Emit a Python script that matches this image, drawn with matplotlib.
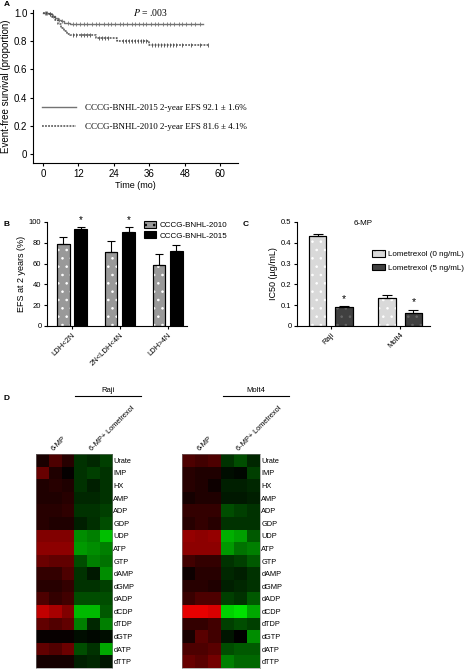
import numpy as np
import matplotlib
matplotlib.use('Agg')
from matplotlib import pyplot as plt
from matplotlib.colors import LinearSegmentedColormap
from matplotlib.lines import Line2D
from matplotlib.patches import Patch

plt.rcParams['font.family'] = ['Liberation Sans', 'DejaVu Sans']
plt.rcParams['mathtext.fontset'] = 'stix'
plt.rcParams['hatch.linewidth'] = 0.6

# ---- panel A: Kaplan-Meier curves
t_2015 = [0, 1, 2, 3, 4, 5, 6, 7, 8, 9, 54]
s_2015 = [1.0, 1.0, 0.99, 0.98, 0.965, 0.95, 0.94, 0.93, 0.925, 0.921, 0.921]
cens_2015 = [0.5, 1.5, 2.5, 3.5, 5.5, 6.5, 8.5, 10, 11, 12.5, 14, 15, 16.5, 18, 19, 20.5, 22, 23, 24.5,
             26, 27, 28.5, 30, 31, 32.5, 34, 35, 36.5, 38, 39, 40.5, 42, 43, 44.5, 46, 47, 48.5, 50, 51.5, 53]
t_2010 = [0, 2, 3, 4, 5, 6, 7, 8, 9, 18, 25, 36, 56]
s_2010 = [1.0, 0.99, 0.97, 0.95, 0.92, 0.89, 0.87, 0.85, 0.84, 0.82, 0.80, 0.77, 0.77]
cens_2010 = [1, 2.5, 10, 11, 13, 14, 15, 16, 19, 20, 21, 22, 27, 28, 29, 30, 31, 32, 33, 34, 35,
             37, 38, 39, 40, 41, 42, 43, 44, 45, 47, 50, 53, 56]
label_2015 = 'CCCG-BNHL-2015 2-year EFS 92.1 \u00b1 1.6%'
label_2010 = 'CCCG-BNHL-2010 2-year EFS 81.6 \u00b1 4.1%'
p_value = '.003'

# ---- panel B: EFS by LDH
ldh_groups = ['LDH<2N', '2N<LDH<4N', 'LDH>4N']
efs_2010 = [79, 71, 59]
efs_2010_err = [7, 11, 10]
efs_2015 = [93, 90, 72.5]
efs_2015_err = [2.5, 5, 5.5]
efs_sig = [True, True, False]

# ---- panel C: IC50
cell_lines = ['Raji', 'Molt4']
ic50_0 = [0.433, 0.137]
ic50_0_err = [0.008, 0.011]
ic50_5 = [0.089, 0.064]
ic50_5_err = [0.006, 0.015]

# ---- panel D: heatmaps
metabolites = ['Urate', 'IMP', 'HX', 'AMP', 'ADP', 'GDP', 'UDP', 'ATP', 'GTP', 'dAMP', 'dGMP',
               'dADP', 'dCDP', 'dTDP', 'dGTP', 'dATP', 'dTTP']
raji = [
    [0.10, 0.30, 0.15, -0.20, -0.15, -0.25],
    [0.40, 0.12, 0.02, -0.20, -0.25, -0.20],
    [0.12, 0.15, 0.12, -0.20, -0.12, -0.20],
    [0.12, 0.12, 0.15, -0.15, -0.15, -0.20],
    [0.15, 0.15, 0.18, -0.20, -0.20, -0.25],
    [0.15, 0.12, 0.12, -0.12, -0.18, -0.30],
    [0.50, 0.50, 0.50, -0.55, -0.50, -0.75],
    [0.55, 0.55, 0.55, -0.60, -0.55, -0.50],
    [0.42, 0.38, 0.38, -0.30, -0.50, -0.45],
    [0.20, 0.20, 0.30, -0.20, -0.10, -0.55],
    [0.15, 0.15, 0.20, -0.20, -0.20, -0.25],
    [0.30, 0.20, 0.25, -0.30, -0.30, -0.30],
    [0.75, 0.65, 0.50, -0.72, -0.72, -0.35],
    [0.38, 0.32, 0.38, -0.50, -0.15, -0.50],
    [0.03, 0.03, 0.03, -0.05, -0.03, -0.05],
    [0.38, 0.32, 0.42, -0.30, -0.20, -0.65],
    [0.08, 0.08, 0.08, -0.12, -0.15, -0.08],
]
molt4 = [
    [0.30, 0.25, 0.30, -0.20, -0.30, -0.15],
    [0.15, 0.12, 0.12, -0.05, -0.03, -0.25],
    [0.15, 0.12, 0.05, -0.12, -0.12, -0.15],
    [0.08, 0.12, 0.12, -0.10, -0.10, -0.12],
    [0.20, 0.20, 0.20, -0.30, -0.25, -0.20],
    [0.15, 0.20, 0.15, -0.20, -0.20, -0.20],
    [0.58, 0.55, 0.58, -0.68, -0.62, -0.35],
    [0.55, 0.55, 0.55, -0.60, -0.45, -0.50],
    [0.25, 0.20, 0.20, -0.20, -0.25, -0.35],
    [0.05, 0.15, 0.15, -0.15, -0.12, -0.20],
    [0.15, 0.15, 0.12, -0.12, -0.15, -0.20],
    [0.22, 0.30, 0.30, -0.25, -0.20, -0.35],
    [0.90, 0.90, 0.85, -0.82, -0.88, -0.65],
    [0.20, 0.20, 0.25, -0.25, -0.30, -0.25],
    [0.10, 0.35, 0.25, -0.08, 0.00, -0.55],
    [0.30, 0.30, 0.35, -0.30, -0.35, -0.35],
    [0.40, 0.35, 0.45, -0.50, -0.40, -0.40],
]

W, H = 469, 670
fig = plt.figure(figsize=(W / 100, H / 100), dpi=100)


def px_axes(x0, y0, x1, y1):
    # pixel box (top-left origin) -> figure axes
    return fig.add_axes([x0 / W, 1 - y1 / H, (x1 - x0) / W, (y1 - y0) / H])


def prism(ax, size):
    for s in ('top', 'right'):
        ax.spines[s].set_visible(False)
    for s in ('left', 'bottom'):
        ax.spines[s].set_linewidth(0.8)
    ax.tick_params(length=2.5, width=0.8, labelsize=size, pad=1.5)


def step_at(ts, ss, t):
    return ss[np.searchsorted(ts, t, side='right') - 1]


# ======== A
axA = px_axes(33, 10, 238, 163)
prism(axA, 7)
l15, = axA.step(t_2015, s_2015, where='post', color='0.45', lw=1.0)
l10, = axA.step(t_2010, s_2010, where='post', color='0.3', lw=1.1, ls=(0, (1.2, 0.8)))
axA.plot(cens_2015, [step_at(t_2015, s_2015, t) for t in cens_2015], ls='none', marker='|',
         ms=3.5, mew=0.6, color='0.45')
axA.plot(cens_2010, [step_at(t_2010, s_2010, t) for t in cens_2010], ls='none', marker='|',
         ms=3.5, mew=0.6, color='0.3')
axA.set_xlim(-3.4, 66)
axA.set_ylim(-0.062, 1.02)
axA.set_xticks([0, 12, 24, 36, 48, 60])
axA.set_yticks([0, 0.2, 0.4, 0.6, 0.8, 1.0])
axA.set_yticklabels(['0', '0.2', '0.4', '0.6', '0.8', '1.0'])
axA.set_xlabel('Time (mo)', fontsize=6.5, labelpad=2)
axA.set_ylabel('Event-free survival (proportion)', fontsize=7, labelpad=2)
axA.text(30.5, 1.0, r'$P$ = ' + p_value, fontsize=7, family='Liberation Serif', va='center')
axA.legend([l15, l10], [label_2015, label_2010], loc='center left', bbox_to_anchor=(0.005, 0.30),
           frameon=False, prop={'family': 'Liberation Serif', 'size': 6.5}, handlelength=3.8,
           handletextpad=0.9, labelspacing=1.2)
fig.text(4 / W, 1 - 5 / H, 'A', fontsize=6, fontweight='bold', va='center')

# ======== B
axB = px_axes(47, 222, 187, 326)
prism(axB, 5.5)
xb = np.arange(len(ldh_groups))
bw = 0.26
axB.bar(xb - 0.18, efs_2010, width=bw, color='0.6', edgecolor='black', linewidth=0.8)
axB.bar(xb - 0.18, efs_2010, width=bw, fill=False, hatch='..', edgecolor='white', linewidth=0)
axB.bar(xb - 0.18, efs_2010, width=bw, fill=False, edgecolor='black', linewidth=0.8)
axB.bar(xb + 0.18, efs_2015, width=bw, color='black', edgecolor='black', linewidth=0.8)
axB.errorbar(xb - 0.18, efs_2010, yerr=[np.zeros(3), efs_2010_err], fmt='none', ecolor='black',
             elinewidth=0.8, capsize=3, capthick=0.8)
axB.errorbar(xb + 0.18, efs_2015, yerr=[np.zeros(3), efs_2015_err], fmt='none', ecolor='black',
             elinewidth=0.8, capsize=3, capthick=0.8)
for i, sig in enumerate(efs_sig):
    if sig:
        axB.text(xb[i] + 0.18, efs_2015[i] + efs_2015_err[i] + 2, '*', ha='center', va='bottom',
                 fontsize=7)
axB.set_xlim(-0.52, 2.4)
axB.set_ylim(0, 100)
axB.set_yticks([0, 20, 40, 60, 80, 100])
axB.set_xticks(xb)
axB.set_xticklabels(ldh_groups, rotation=45, ha='right', rotation_mode='anchor')
axB.set_ylabel('EFS at 2 years (%)', fontsize=6.5, labelpad=2)
axB.legend([Patch(facecolor='0.6', edgecolor='black', hatch='..', linewidth=0.8),
            Patch(facecolor='black', edgecolor='black', linewidth=0.8)],
           ['CCCG-BNHL-2010', 'CCCG-BNHL-2015'], loc='upper right', bbox_to_anchor=(1.34, 1.08),
           frameon=False, fontsize=5.8, handlelength=1.5, handleheight=0.9, handletextpad=0.4,
           labelspacing=0.3)
fig.text(4 / W, 1 - 224 / H, 'B', fontsize=6, fontweight='bold', va='center')

# ======== C
axC = px_axes(297, 222, 430, 326)
prism(axC, 5.5)
xc = np.arange(len(cell_lines))
axC.bar(xc - 0.19, ic50_0, width=0.25, color='0.85', edgecolor='black', linewidth=0.8)
axC.bar(xc - 0.19, ic50_0, width=0.25, fill=False, hatch='..', edgecolor='white', linewidth=0)
axC.bar(xc - 0.19, ic50_0, width=0.25, fill=False, edgecolor='black', linewidth=0.8)
axC.bar(xc + 0.19, ic50_5, width=0.25, color='0.25', edgecolor='black', linewidth=0.8)
axC.bar(xc + 0.19, ic50_5, width=0.25, fill=False, hatch='..', edgecolor='0.4', linewidth=0)
axC.bar(xc + 0.19, ic50_5, width=0.25, fill=False, edgecolor='black', linewidth=0.8)
axC.errorbar(xc - 0.19, ic50_0, yerr=[np.zeros(2), ic50_0_err], fmt='none', ecolor='black',
             elinewidth=0.8, capsize=3.5, capthick=0.8)
axC.errorbar(xc + 0.19, ic50_5, yerr=[np.zeros(2), ic50_5_err], fmt='none', ecolor='black',
             elinewidth=0.8, capsize=3.5, capthick=0.8)
for i in range(len(cell_lines)):
    axC.text(xc[i] + 0.19, ic50_5[i] + ic50_5_err[i] + 0.012, '*', ha='center', va='bottom',
             fontsize=7.5)
axC.set_xlim(-0.49, 1.43)
axC.set_ylim(0, 0.5)
axC.set_yticks([0, 0.1, 0.2, 0.3, 0.4, 0.5])
axC.set_yticklabels(['0', '0.1', '0.2', '0.3', '0.4', '0.5'])
axC.set_xticks(xc)
axC.set_xticklabels(cell_lines, rotation=45, ha='right', rotation_mode='anchor')
axC.set_ylabel('IC50 (\u00b5g/mL)', fontsize=6.5, labelpad=2)
axC.set_title('6-MP', fontsize=5.8, pad=0, y=0.97)
axC.legend([Patch(facecolor='0.85', edgecolor='black', hatch='..', linewidth=0.8),
            Patch(facecolor='0.25', edgecolor='black', linewidth=0.8)],
           ['Lometrexol (0 ng/mL)', 'Lometrexol (5 ng/mL)'], loc='upper right',
           bbox_to_anchor=(1.31, 0.8), frameon=False, fontsize=5.8, handlelength=1.6,
           handleheight=0.9, handletextpad=0.4, labelspacing=0.7)
fig.text(243 / W, 1 - 224 / H, 'C', fontsize=6, fontweight='bold', va='center')

# ======== D
cmap = LinearSegmentedColormap.from_list('rg', [(0, 1, 0), (0, 0, 0), (1, 0, 0)])
for data, name, x0, x1 in [(raji, 'Raji', 36, 112), (molt4, 'Molt4', 182, 260)]:
    ax = px_axes(x0, 454, x1, 668)
    ax.imshow(np.array(data), cmap=cmap, vmin=-1, vmax=1, aspect='auto', interpolation='nearest')
    ax.yaxis.tick_right()
    ax.set_yticks(range(len(metabolites)))
    ax.set_yticklabels(metabolites)
    ax.xaxis.tick_top()
    ax.set_xticks([1, 4])
    ax.set_xticklabels(['6-MP', '6-MP+ Lometrexol'], rotation=45, ha='left',
                       rotation_mode='anchor')
    ax.tick_params(length=0, labelsize=5.3, pad=1)
    for s in ax.spines.values():
        s.set_linewidth(0.4)
        s.set_color('0.5')
    cx = x0 + (x1 - x0) * 0.95
    fig.add_artist(Line2D([(cx - 33) / W, (cx + 33) / W], [1 - 396 / H, 1 - 396 / H],
                          color='black', lw=0.8))
    fig.text(cx / W, 1 - 391 / H, name, fontsize=5.5, ha='center', va='center')
fig.text(4 / W, 1 - 399 / H, 'D', fontsize=6, fontweight='bold', va='center')

fig.savefig('out.png', dpi=100)
